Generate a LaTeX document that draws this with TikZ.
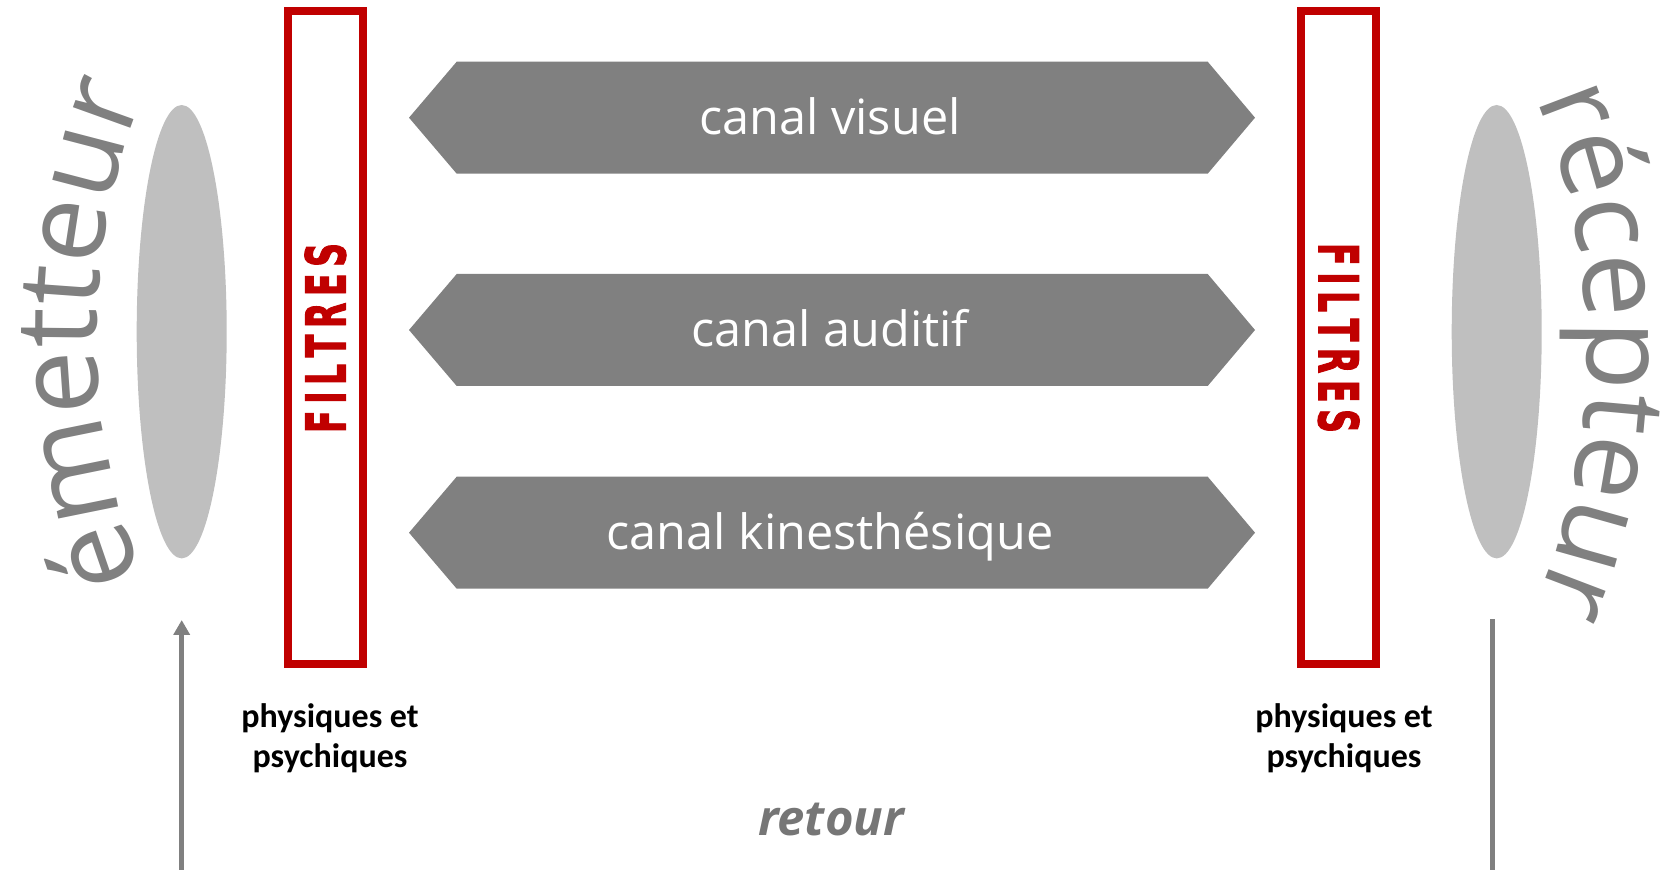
\documentclass[tikz,border=0pt]{standalone}
\usepackage{fontspec}
\setmainfont{Open Sans}
\newfontfamily\carl{Carlito}
\newfontfamily\filtf{DejaVu Sans}[FakeBold=2.5]
\usetikzlibrary{decorations.text,arrows.meta,shapes.geometric}
\definecolor{chgray}{RGB}{128,128,128}
\definecolor{elgray}{RGB}{191,191,191}
\definecolor{fred}{RGB}{192,0,0}
\definecolor{rgray}{RGB}{118,118,118}
\newcommand{\filtword}{\resizebox{95pt}{20.3pt}{\filtf\bfseries F\hspace{.2em}I\hspace{.2em}L\hspace{.2em}T\hspace{.2em}R\hspace{.2em}E\hspace{.2em}S}}
\begin{document}
\begin{tikzpicture}[x=0.5pt,y=0.5pt,
  chan/.style={fill=chgray},
  chanlabel/.style={text=white,font=\fontsize{24.3pt}{29pt}\selectfont,anchor=base,inner sep=0pt},
  filtbox/.style={draw=fred,line width=4pt,minimum width=37.5pt,minimum height=326.25pt,inner sep=0pt},
  filtlabel/.style={text=fred,inner sep=0pt},
  ellblob/.style={ellipse,fill=elgray,draw=none,minimum width=45pt,minimum height=226.7pt,inner sep=0pt},
  sublabel/.style={font=\carl\bfseries\fontsize{17pt}{20pt}\selectfont,anchor=base,inner sep=0pt,text=black},
  feed/.style={line width=2.5pt,draw=chgray},
  bigword/.style={decorate,decoration={text along path,text align=center,
     text={|\fontsize{57pt}{57pt}\selectfont\color{chgray}|#1}}}
]
\path[use as bounding box] (0,0) rectangle (1680,-870);

% ellipses
\node[ellblob] (em) at (181.7,-331.7) {};
\node[ellblob] (rc) at (1496.7,-331.7) {};

% filter boxes
\node[filtbox] (fL) at (325.5,-337.75) {};
\node[filtbox] (fR) at (1338.7,-337.75) {};
\node[filtlabel,rotate=90] (tL) at (325.4,-338) {\filtword};
\node[filtlabel,rotate=-90] (tR) at (1338.6,-338) {\filtword};

% channels
\foreach \cy/\nm/\txt in {117.7/cv/canal visuel,330/ca/canal auditif,532.7/ck/canal kinesthésique}{
  \fill[chan] (409,-\cy) -- (456.7,{-\cy+56}) -- (1207.7,{-\cy+56}) -- (1255,-\cy)
      -- (1207.7,{-\cy-56}) -- (456.7,{-\cy-56}) -- cycle;
  \node[chanlabel] (\nm) at (830,{-\cy-17}) {\txt};
}

% curved words
\path[bigword={émetteur}] (747,-335) ++(215:650) arc[start angle=215,end angle=145,radius=650];
\path[bigword={récepteur}] (937,-351) ++(35:650) arc[start angle=35,end angle=-35,radius=650];

% labels under filters
\node[sublabel] (pL1) at (330,-727) {physiques et};
\node[sublabel] (pL2) at (330,-767) {psychiques};
\node[sublabel] (pR1) at (1344,-727) {physiques et};
\node[sublabel] (pR2) at (1344,-767) {psychiques};

% feedback
\coordinate (aTop) at (181.7,-620);
\coordinate (aBot) at (181.7,-870);
\coordinate (bTop) at (1492.3,-619.3);
\coordinate (bBot) at (1492.3,-870);
\draw[feed,-{Triangle[length=7.5pt,width=8pt]}] (aBot) -- (aTop);
\draw[feed] (bTop) -- (bBot);
\node[font=\fontsize{24.5pt}{29pt}\selectfont\bfseries\itshape,text=rgray,anchor=base,inner sep=0pt] (ret) at (831,-835) {retour};
\end{tikzpicture}
\end{document}
